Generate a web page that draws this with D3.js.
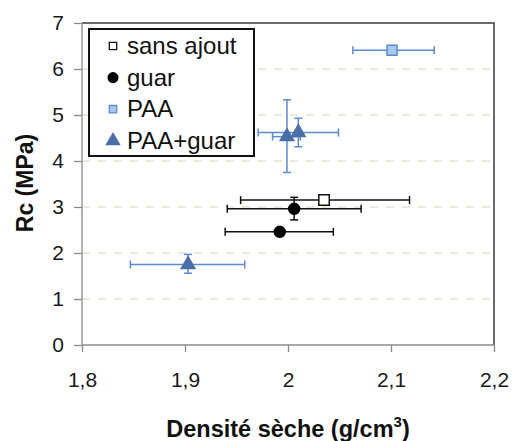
<!DOCTYPE html>
<html><head><meta charset="utf-8">
<script src="https://cdn.jsdelivr.net/npm/d3@7"></script>
<style>body{margin:0;background:#fff}svg{display:block}text{font-family:"Liberation Sans",Arial,sans-serif}</style>
</head><body><svg id="c" width="516" height="441"></svg>
<script>
// ---- data ----
const xTicks = [1.8, 1.9, 2.0, 2.1, 2.2];
const xTickLabels = ["1,8", "1,9", "2", "2,1", "2,2"];
const yTicks = [0, 1, 2, 3, 4, 5, 6, 7];
const seriesNames = ["sans ajout", "guar", "PAA", "PAA+guar"];
// each point: x, y, x error low/high, y error low/high (null = none)
const sansAjout = [{x: 2.035, y: 3.15, xlo: 1.954, xhi: 2.118, ylo: null, yhi: null}];
const guar = [
  {x: 2.006, y: 2.96, xlo: 1.941, xhi: 2.071, ylo: 2.72, yhi: 3.21},
  {x: 1.992, y: 2.46, xlo: 1.939, xhi: 2.044, ylo: null, yhi: null}
];
const paa = [{x: 2.101, y: 6.41, xlo: 2.063, xhi: 2.142, ylo: null, yhi: null}];
const paaGuar = [
  {x: 1.999, y: 4.53, xlo: 1.985, xhi: 2.012, ylo: 3.75, yhi: 5.33},
  {x: 2.010, y: 4.62, xlo: 1.971, xhi: 2.049, ylo: 4.31, yhi: 4.93},
  {x: 1.903, y: 1.75, xlo: 1.847, xhi: 1.958, ylo: 1.56, yhi: 1.97}
];

const svg = d3.select("#c");
const L = 82, R = 494, T = 23, B = 345;
const x = d3.scaleLinear().domain([1.8, 2.2]).range([L, R]);
const y = d3.scaleLinear().domain([0, 7]).range([B, T]);

// gridlines
svg.append("g").selectAll("line").data(yTicks.filter(d => d > 0 && d < 7)).join("line")
  .attr("x1", L).attr("x2", R).attr("y1", d => y(d)).attr("y2", d => y(d))
  .attr("stroke", "#d6d6b4").attr("stroke-width", 1).attr("stroke-dasharray", "8,8");

// frame top & right
svg.append("path").attr("d", `M${L},${T}H${R}V${B}`).attr("fill", "none")
  .attr("stroke", "#3a3a3a").attr("stroke-width", 1.5);

// axes
const yAxis = d3.axisLeft(y).tickValues(yTicks).tickSize(8).tickPadding(10).tickFormat(d3.format("d"));
const gy = svg.append("g").attr("transform", `translate(${L},0)`).call(yAxis);
const xAxis = d3.axisBottom(x).tickValues(xTicks).tickSize(7).tickPadding(20)
  .tickFormat((d, i) => xTickLabels[i]);
const gx = svg.append("g").attr("transform", `translate(0,${B})`).call(xAxis);
[gx, gy].forEach(g => {
  g.select(".domain").attr("stroke", "#8a8a8a").attr("stroke-width", 1.3);
  g.selectAll(".tick line").attr("stroke", "#8a8a8a").attr("stroke-width", 1.3);
  g.selectAll(".tick text").attr("font-size", 21).attr("fill", "#1a1a1a")
    .style("font-family", '"Liberation Sans",Arial,sans-serif');
});
gx.select(".domain").attr("d", `M${L},0H${R}`);
gy.select(".domain").attr("d", `M0,${B}V${T}`);

// axis titles
const xt = svg.append("text").attr("x", 288).attr("y", 437).attr("text-anchor", "middle")
  .attr("font-size", 23.5).attr("font-weight", "bold").attr("fill", "#111");
xt.append("tspan").text("Densité sèche (g/cm");
xt.append("tspan").attr("font-size", 15).attr("dy", -10).text("3");
xt.append("tspan").attr("dy", 10).text(")");
svg.append("text").attr("transform", "translate(33,183) rotate(-90)").attr("text-anchor", "middle")
  .attr("font-size", 23).attr("font-weight", "bold").attr("fill", "#111").text("Rc (MPa)");

// error bars
function errBars(data, color) {
  const g = svg.append("g").attr("stroke", color).attr("stroke-width", 1.5).attr("fill", "none");
  const cap = 4;
  data.forEach(d => {
    g.append("line").attr("x1", x(d.xlo)).attr("x2", x(d.xhi)).attr("y1", y(d.y)).attr("y2", y(d.y));
    g.append("line").attr("x1", x(d.xlo)).attr("x2", x(d.xlo)).attr("y1", y(d.y) - cap).attr("y2", y(d.y) + cap);
    g.append("line").attr("x1", x(d.xhi)).attr("x2", x(d.xhi)).attr("y1", y(d.y) - cap).attr("y2", y(d.y) + cap);
    if (d.ylo != null) {
      g.append("line").attr("x1", x(d.x)).attr("x2", x(d.x)).attr("y1", y(d.ylo)).attr("y2", y(d.yhi));
      g.append("line").attr("x1", x(d.x) - cap).attr("x2", x(d.x) + cap).attr("y1", y(d.ylo)).attr("y2", y(d.ylo));
      g.append("line").attr("x1", x(d.x) - cap).attr("x2", x(d.x) + cap).attr("y1", y(d.yhi)).attr("y2", y(d.yhi));
    }
  });
}
const blue = "#5b8bd0";
errBars(sansAjout, "#111");
errBars(guar, "#111");
errBars(paa, blue);
errBars(paaGuar, blue);

const styles = {
  "sans ajout": {type: d3.symbolSquare, size: 110, fill: "#fff", stroke: "#111"},
  "guar": {type: d3.symbolCircle, size: 95, fill: "#000", stroke: "#000"},
  "PAA": {type: d3.symbolSquare, size: 100, fill: "#a9c8ee", stroke: "#5b8bd0"},
  "PAA+guar": {type: d3.symbolTriangle, size: 80, fill: "#4a6ea8", stroke: "#4a6ea8"}
};
function marks(data, name) {
  const s = styles[name];
  svg.append("g").selectAll("path").data(data).join("path")
    .attr("transform", d => `translate(${x(d.x)},${y(d.y)})`)
    .attr("d", d3.symbol().type(s.type).size(s.size))
    .attr("fill", s.fill).attr("stroke", s.stroke).attr("stroke-width", 1.5);
}
marks(sansAjout, "sans ajout");
marks(guar, "guar");
marks(paa, "PAA");
marks(paaGuar, "PAA+guar");

// legend
const lg = svg.append("g");
lg.append("rect").attr("x", 89).attr("y", 29).attr("width", 165).attr("height", 127)
  .attr("fill", "#fff").attr("stroke", "#111").attr("stroke-width", 2);
const legSizes = {"sans ajout": 55, "guar": 75, "PAA": 55, "PAA+guar": 75};
seriesNames.forEach((n, i) => {
  const s = styles[n];
  const cy = 46 + i * 31.6;
  lg.append("path").attr("transform", `translate(113,${cy})`)
    .attr("d", d3.symbol().type(s.type).size(legSizes[n]))
    .attr("fill", s.fill).attr("stroke", s.stroke).attr("stroke-width", 1.3);
  lg.append("text").attr("x", 127).attr("y", cy + 8).attr("font-size", 24).attr("fill", "#111").text(n);
});
</script></body></html>
